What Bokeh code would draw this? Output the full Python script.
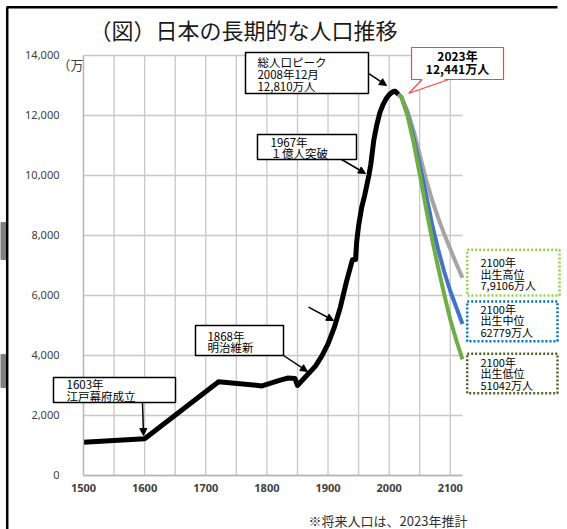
from bokeh.plotting import figure
from bokeh.models import (Label, Arrow, NormalHead, FixedTicker, PolyAnnotation, BoxAnnotation,
                          NumeralTickFormatter, Range1d)
from bokeh.embed import file_html
from bokeh.resources import INLINE

# ---- data ----
hist_years = [1500, 1600, 1721, 1792, 1822, 1834, 1846, 1850, 1872, 1880, 1890, 1900, 1910,
              1920, 1930, 1940, 1945, 1947, 1950, 1955, 1960, 1967, 1970, 1975, 1980, 1985,
              1990, 1995, 2000, 2005, 2008, 2010, 2015]
hist_pop = [1110, 1227, 3128, 2987, 3177, 3248, 3230, 3000, 3481, 3665, 3990, 4385, 4918,
            5596, 6445, 7193, 7199, 7810, 8320, 8928, 9342, 10020, 10372, 11194, 11706, 12105,
            12361, 12557, 12693, 12777, 12810, 12806, 12709]

proj_years = [2015, 2020, 2030, 2040, 2050, 2060, 2070, 2080, 2090, 2100, 2110, 2120]
proj_high = [12709, 12615, 12150, 11500, 10700, 9900, 9200, 8600, 8050, 7550, 7050, 6590]
proj_mid = [12709, 12615, 12050, 11250, 10350, 9400, 8400, 7550, 6800, 6150, 5600, 5050]
proj_low = [12709, 12615, 12000, 11100, 10050, 8950, 7900, 6950, 6050, 5200, 4500, 3870]

x_ticks = [1500, 1600, 1700, 1800, 1900, 2000, 2100]
x_grid = [1500, 1550, 1600, 1650, 1700, 1750, 1800, 1850, 1900, 1950, 2000, 2050, 2100]
y_ticks = [0, 2000, 4000, 6000, 8000, 10000, 12000, 14000]
x_end = 2120

title_text = "（図）日本の長期的な人口推移"
unit_text = "（万"
note_text = "※将来人口は、2023年推計"
peak_text = "総人口ピーク\n2008年12月\n12,810万人"
now_text = "2023年\n12,441万人"
y1967_text = "1967年\n１億人突破"
y1868_text = "1868年\n明治維新"
y1603_text = "1603年\n江戸幕府成立"
high_text = "2100年\n出生高位\n7,9106万人"
mid_text = "2100年\n出生中位\n62779万人"
low_text = "2100年\n出生低位\n51042万人"

JP = "Noto Sans CJK JP"

# whole canvas is the frame; axes are pinned inside it
p = figure(width=567, height=529, frame_width=567, frame_height=529,
           x_range=Range1d(1364.22, 2291.77), y_range=Range1d(-1800, 15833.3),
           output_backend="svg", toolbar_location=None,
           min_border_left=0, min_border_right=0, min_border_top=0, min_border_bottom=0)
p.title.visible = False
p.outline_line_color = None
p.background_fill_color = "white"
p.border_fill_color = "white"
p.xgrid.visible = False
p.ygrid.visible = False

# grid lines
GRID = "#c8c8c8"
p.segment(x0=x_grid, y0=[y_ticks[0]] * len(x_grid), x1=x_grid, y1=[y_ticks[-1]] * len(x_grid),
          line_color=GRID, line_width=1.3)
p.segment(x0=[x_ticks[0]] * len(y_ticks), y0=y_ticks, x1=[x_end] * len(y_ticks), y1=y_ticks,
          line_color=GRID, line_width=1.3)

p.xaxis.ticker = FixedTicker(ticks=x_ticks)
p.yaxis.ticker = FixedTicker(ticks=y_ticks)
p.xaxis.fixed_location = y_ticks[0]
p.yaxis.fixed_location = x_ticks[0]
p.xaxis.bounds = (x_ticks[0], x_end)
p.yaxis.bounds = (y_ticks[0], y_ticks[-1])
p.yaxis.formatter = NumeralTickFormatter(format="0,0")
for ax in (p.xaxis, p.yaxis):
    ax.axis_line_color = "#b4b4b4"
    ax.axis_line_width = 1.3
    ax.major_tick_line_color = None
    ax.minor_tick_line_color = None
    ax.major_label_text_font = "Noto Sans"
    ax.major_label_text_font_size = "11px"
    ax.major_label_text_color = "#404040"
p.xaxis.major_label_text_font_style = "bold"
p.xaxis.major_label_standoff = 3
p.yaxis.major_label_standoff = 18

# lines
p.line(proj_years, proj_high, line_color="#a5a5a5", line_width=4)
p.line(proj_years, proj_mid, line_color="#4472c4", line_width=4)
p.line(proj_years, proj_low, line_color="#70ad47", line_width=4)
p.line(hist_years, hist_pop, line_color="black", line_width=5, line_join="round")


def box(text, rect, tx, ty, size, lh, align="left", bold=False, border="black", dash="solid", lw=1.5):
    l, r, t, b = rect
    p.add_layout(BoxAnnotation(left=l, right=r, top=t, bottom=b, fill_color="white", fill_alpha=1,
                               line_color=border, line_width=lw, line_dash=dash, line_alpha=1))
    p.add_layout(Label(x=tx, y=ty, text=text, text_font=JP, text_font_size=size,
                       text_align=align, text_baseline="middle", text_line_height=lh,
                       text_color="black", text_font_style="bold" if bold else "normal"))


def arrow(x0, y0, x1, y1):
    p.add_layout(Arrow(x_start=x0, y_start=y0, x_end=x1, y_end=y1, line_color="black", line_width=1.5,
                       end=NormalHead(size=7, fill_color="black", line_color="black")))

arrow(1966.2, 13400, 1995.7, 13000)
arrow(1913.9, 10633, 1961.3, 10067)
arrow(1868.1, 5610, 1909.0, 5167)
arrow(1827.2, 4000, 1866.4, 3467)
arrow(1596.5, 2433, 1598.2, 1333)

box(peak_text, (1765.0, 1966.2, 14100, 12733), 1784.6, 13383, "11.5px", 0.72)
box(y1967_text, (1784.6, 1946.6, 11367, 10533), 1805.9, 10920, "11.5px", 0.68)
box(y1868_text, (1683.2, 1827.2, 5000, 4000), 1702.8, 4470, "11.5px", 0.69)
box(y1603_text, (1450.9, 1650.5, 3267, 2433), 1472.2, 2860, "11.5px", 0.76)
box(high_text, (2127.7, 2278.7, 7523, 6000), 2149.4, 6720, "11px", 0.72,
    border="#92d050", dash="2 2", lw=2.5)
box(mid_text, (2127.7, 2275.4, 5800, 4477), 2149.4, 5167, "11px", 0.72,
    border="#0070c0", dash="2 2", lw=2.5)
box(low_text, (2127.7, 2275.4, 4057, 2743), 2149.4, 3403, "11px", 0.72,
    border="#4f6228", dash="2 2", lw=2.5)

# red callout
box(now_text, (2036.6, 2187.1, 14267, 13200), 2111.8, 13775, "12px", 0.745, align="center",
    bold=True, border="#ff4040", lw=1.2)
p.add_layout(PolyAnnotation(xs=[2055.5, 2032.2, 2096.0], ys=[13240, 12743, 13240],
                            fill_color="white", fill_alpha=1, line_color=None))
p.add_layout(Arrow(x_start=2054.1, y_start=13200, x_end=2032.2, y_end=12743, end=None,
                   line_color="#ff4040", line_width=1.2))
p.add_layout(Arrow(x_start=2097.6, y_start=13200, x_end=2032.2, y_end=12743, end=None,
                   line_color="#ff4040", line_width=1.2))

# title, unit, note
p.add_layout(Label(x=1761.6, y=14883, text=title_text, text_font=JP, text_font_size="22px",
                   text_align="center", text_baseline="middle", text_color="#1a1a1a"))
p.add_layout(Label(x=1457.5, y=13700, text=unit_text, text_font=JP, text_font_size="13px",
                   text_align="left", text_baseline="middle", text_color="#404040"))
p.add_layout(Label(x=1998.1, y=-1500, text=note_text, text_font=JP, text_font_size="13px",
                   text_align="center", text_baseline="middle", text_color="#303030"))

# page frame pieces
p.add_layout(BoxAnnotation(right=1374.9, top=8433, bottom=7200, fill_color="#7f7f7f", fill_alpha=1,
                           line_color="black", line_width=1))
p.add_layout(BoxAnnotation(right=1374.9, top=4033, bottom=2933, fill_color="#7f7f7f", fill_alpha=1,
                           line_color="black", line_width=1))
p.add_layout(Arrow(x_start=1374.0, y_start=15610, x_end=2275.4, y_end=15610, end=None,
                   line_color="black", line_width=2.5))
p.add_layout(Arrow(x_start=1375.2, y_start=15610, x_end=1375.2, y_end=-1800, end=None,
                   line_color="black", line_width=2.5))

open("out.html", "w").write(file_html(p, INLINE))
